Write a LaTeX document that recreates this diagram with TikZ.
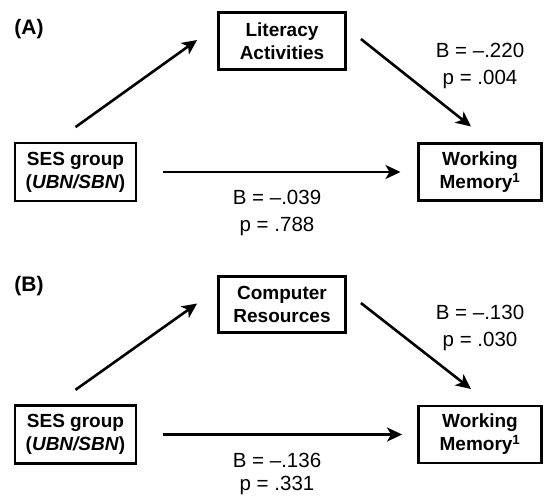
\documentclass[tikz,border=0pt]{standalone}
\usepackage{fontspec}
\setmainfont{Liberation Sans}
\usetikzlibrary{arrows.meta}

\tikzset{
  box/.style={draw, line width=2.8pt, inner sep=0pt, align=center,
    minimum height=57pt, font=\fontsize{19}{23}\selectfont\bfseries},
  coef/.style={align=center, inner sep=0pt, font=\fontsize{20.5}{27}\selectfont},
  panel/.style={inner sep=0pt, font=\fontsize{21}{25}\selectfont\bfseries},
  effect/.style={-{Stealth[length=15pt, width=14pt, inset=4pt]}, line width=2.6pt}
}

\begin{document}
\begin{tikzpicture}[x=1pt, y=-1pt]
				\useasboundingbox (0,0) rectangle (546,502);

				% Panel (A)
				\node[panel] (labA) at (29,29.5) {(A)};
				\node[box, minimum width=121pt, minimum height=58pt] (sesA) at (75.5,172) {SES group\\(\textit{UBN/SBN})};
				\node[box, minimum width=127pt] (litA) at (282,41) {Literacy\\Activities};
				\node[box, minimum width=123pt] (wmA) at (480,172) {Working\\Memory\textsuperscript{1}};

				\draw[effect] ([shift={(0,-14.5)}]sesA.north) -- ([shift={(-20,-1)}]litA.west);
				\draw[effect] ([shift={(14,-2)}]litA.east) -- ([shift={(-9,-15.6)}]wmA.north);
				\draw[effect, shorten <=25.6pt, shorten >=16.6pt] (sesA.east) -- (wmA.west);

				\node[coef] (indA) at (480,65.5) {B = --.220\\p = .004};
				\node[coef] (dirA) at (277,212.5) {B = --.039\\p = .788};

				% Panel (B)
				\node[panel] (labB) at (29,286) {(B)};
				\node[box, minimum width=121pt, minimum height=58pt] (sesB) at (75.5,434.5) {SES group\\(\textit{UBN/SBN})};
				\node[box, minimum width=127pt, minimum height=56pt] (compB) at (282,304.5) {Computer\\Resources};
				\node[box, minimum width=123pt] (wmB) at (480,434.5) {Working\\Memory\textsuperscript{1}};

				\draw[effect] ([shift={(0,-14.3)}]sesB.north) -- ([shift={(-20,-1)}]compB.west);
				\draw[effect] ([shift={(14,-1.5)}]compB.east) -- ([shift={(-9,-15.6)}]wmB.north);
				\draw[effect, shorten <=25.6pt, shorten >=15pt] (sesB.east) -- (wmB.west);

				\node[coef] (indB) at (480,328) {B = --.130\\p = .030};
				\node[coef, font=\fontsize{20.5}{23}\selectfont] (dirB) at (277,474) {B = --.136\\p = .331};
\end{tikzpicture}
\end{document}
